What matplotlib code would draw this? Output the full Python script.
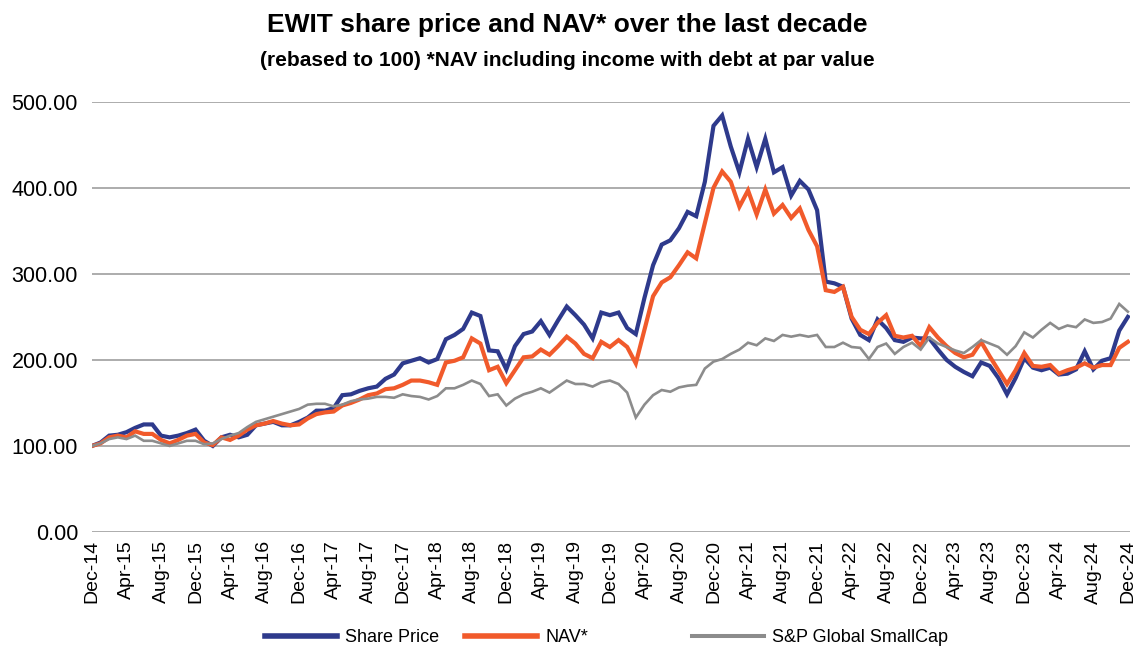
import matplotlib
matplotlib.use("Agg")
import matplotlib.pyplot as plt
from matplotlib.lines import Line2D
import pandas as pd

plt.rcParams['font.family'] = ['Liberation Sans', 'DejaVu Sans']

title = "EWIT share price and NAV* over the last decade"
subtitle = "(rebased to 100) *NAV including income with debt at par value"
series_names = ["Share Price", "NAV*", "S&P Global SmallCap"]

share_price = [100, 104, 112, 113, 116, 121, 125, 125, 112, 110, 112, 115, 119, 106, 100, 110, 113, 110, 113, 124,
               126, 128, 124, 124, 128, 133, 141, 141, 144, 159, 160, 164, 167, 169, 178, 183, 196, 199, 202, 197,
               201, 224, 229, 236, 255, 251, 211, 210, 189, 216, 230, 233, 245, 229, 246, 262, 252, 241, 225, 255,
               252, 255, 237, 230, 272, 310, 334, 339, 353, 372, 367, 407, 472, 484, 448, 418, 457, 424, 457, 418,
               424, 391, 408, 398, 374, 291, 289, 285, 248, 229, 223, 247, 237, 223, 221, 226, 225, 225, 212, 200,
               192, 186, 181, 197, 193, 179, 160, 179, 202, 191, 188, 191, 183, 184, 189, 210, 189, 199, 202, 234,
               250]
nav = [100, 103, 110, 112, 110, 117, 114, 114, 107, 103, 107, 112, 114, 104, 101, 110, 107, 112, 119, 124,
       126, 129, 126, 124, 125, 132, 137, 139, 140, 147, 150, 154, 159, 161, 166, 167, 171, 176, 176, 174,
       171, 197, 199, 203, 225, 219, 188, 192, 173, 188, 203, 204, 212, 206, 216, 227, 219, 207, 202, 221,
       215, 223, 215, 196, 235, 274, 290, 296, 310, 325, 318, 359, 400, 419, 407, 378, 397, 369, 398, 370,
       380, 365, 376, 351, 332, 281, 279, 285, 250, 235, 230, 243, 252, 228, 226, 228, 216, 238, 226, 216,
       208, 203, 206, 221, 204, 188, 172, 188, 208, 193, 192, 194, 184, 188, 191, 196, 191, 194, 194, 214,
       221]
smallcap = [100, 103, 108, 110, 108, 112, 106, 106, 103, 100, 103, 106, 106, 102, 103, 108, 112, 115, 122, 128,
            131, 134, 137, 140, 143, 148, 149, 149, 146, 148, 152, 154, 155, 157, 157, 156, 160, 158, 157, 154,
            158, 167, 167, 171, 176, 172, 158, 160, 147, 155, 160, 163, 167, 162, 169, 176, 172, 172, 169, 174,
            176, 172, 162, 133, 148, 159, 165, 163, 168, 170, 171, 190, 198, 201, 207, 212, 220, 217, 225, 222,
            229, 227, 229, 227, 229, 215, 215, 220, 215, 214, 201, 215, 219, 207, 215, 220, 212, 226, 219, 215,
            211, 208, 215, 223, 219, 215, 206, 216, 232, 226, 235, 243, 236, 240, 238, 247, 243, 244, 248, 265,
            256]

dates = pd.date_range("2014-12-01", periods=len(share_price), freq="MS")
month_labels = [d.strftime("%b-%y") for d in dates]
y_ticks = [0, 100, 200, 300, 400, 500]

colors = ["#2E3A8C", "#F15A2B", "#8C8C8C"]
widths = [3.0, 3.0, 1.9]

fig = plt.figure(figsize=(11.35, 6.48), dpi=100)
ax = fig.add_axes([0.081, 0.179, 0.915, 0.664])

x = list(range(len(share_price)))
for vals, name, c, lw in zip([share_price, nav, smallcap], series_names, colors, widths):
    ax.plot(x, vals, color=c, lw=lw, label=name, solid_joinstyle='miter', zorder=3)

ax.set_ylim(0, 500)
ax.set_xlim(0, len(x) - 1 + 0.3)
ax.set_yticks(y_ticks)
ax.set_yticklabels([f"{v:.2f}" for v in y_ticks], fontsize=15.5)
tick_pos = x[::4]
ax.set_xticks(tick_pos)
ax.set_xticklabels([month_labels[i] for i in tick_pos], rotation=90, fontsize=14)
ax.tick_params(axis='y', length=0, pad=10)
ax.tick_params(axis='x', length=0, pad=6)
ax.grid(axis='y', color='#A6A6A6', lw=1.3, zorder=0)
for s in ax.spines.values():
    s.set_visible(False)

fig.text(0.5, 0.962, title, ha='center', va='center', fontsize=19, fontweight='bold')
fig.text(0.5, 0.907, subtitle, ha='center', va='center', fontsize=15, fontweight='bold')

legend_x = [265 / 1135, 465 / 1135, 692 / 1135]
for name, c, lw, lx in zip(series_names, colors, widths, legend_x):
    h = Line2D([], [], color=c, lw=lw + 1.0)
    fig.legend([h], [name], loc='center left', bbox_to_anchor=(lx, 0.016), frameon=False,
               fontsize=13, handlelength=4.0, handletextpad=0.45, borderpad=0, borderaxespad=0)

fig.savefig("out.png", dpi=100)
